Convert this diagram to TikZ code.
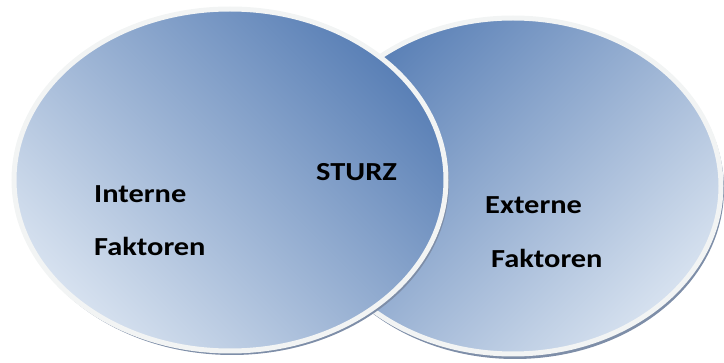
\documentclass[tikz,border=0pt]{standalone}
\usepackage{fontspec}
\setmainfont{Carlito}
\usepackage{xcolor}
\usepackage{tikz}

\definecolor{blobdark}{HTML}{5A80B6}
\definecolor{bloblight}{HTML}{D6E1EF}
\definecolor{blobrim}{HTML}{F2F4F4}
\definecolor{blobshade}{HTML}{7E8EA8}

\tikzset{
    blob/.style={draw=blobrim, line width=5pt, top color=blobdark, bottom color=bloblight},
    blobshadow/.style={fill=blobshade},
    label/.style={anchor=base west, font=\bfseries\fontsize{26}{30}\selectfont, xscale=1.17, inner sep=0pt}
}

\begin{document}
\begin{tikzpicture}[x=1pt, y=-1pt]
    \useasboundingbox (0,0) rectangle (724,363);
    % Externe Faktoren
    \fill[blobshadow] (515,189) ellipse (209 and 170);
    \path[blob, shading angle=45] (513,186) ellipse (208 and 168);
    % Interne Faktoren
    \fill[blobshadow] (232,183) ellipse (217 and 172);
    \path[blob, shading angle=-45] (230,180) ellipse (216 and 171);

    % texts
    \node[label] (intern1) at (94,203) {Interne};
    \node[label] (intern2) at (94,256) {Faktoren};
    \node[label] (sturz) at (316,181) {STURZ};
    \node[label] (extern1) at (485,214) {Externe};
    \node[label] (extern2) at (491,268) {Faktoren};
\end{tikzpicture}
\end{document}
